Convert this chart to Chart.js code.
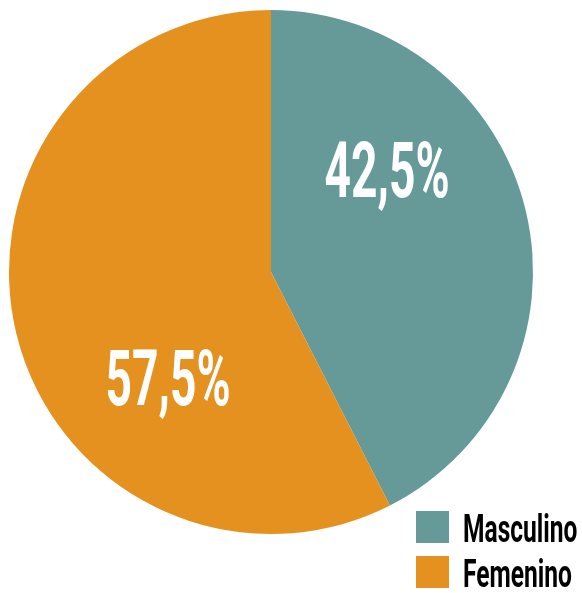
<!DOCTYPE html>
<html lang="es">
<head>
  <meta charset="UTF-8" />
  <title>Masculino / Femenino</title>
  <style>
    html, body { margin: 0; padding: 0; background: #fff; }
    .chart-box { position: relative; width: 582px; height: 593px; }
  </style>
</head>
<body>
  <div class="chart-box">
    <canvas id="genderChart" width="582" height="593"></canvas>
  </div>

  <script src="https://cdn.jsdelivr.net/npm/chart.js"></script>
  <script>
    const categories = ['Masculino', 'Femenino'];
    const shares = [42.5, 57.5];
    const valueLabels = ['42,5%', '57,5%'];
    const sliceColors = ['#659a99', '#e4911f'];

    // label anchors, as fractions of the radius from the pie center
    const labelAnchors = [[0.443, -0.389], [-0.393, 0.405]];

    // condensed bold text: draw squeezed horizontally
    function condensedText(ctx, text, x, y, size, squeeze, align) {
      ctx.save();
      ctx.font = 'bold ' + size + 'px Roboto';
      ctx.textBaseline = 'alphabetic';
      ctx.textAlign = align;
      ctx.translate(x, y);
      ctx.scale(squeeze, 1);
      ctx.fillText(text, 0, 0);
      ctx.restore();
    }

    const pieLabels = {
      id: 'pieLabels',
      afterDatasetsDraw(chart) {
        const ctx = chart.ctx;
        const arcs = chart.getDatasetMeta(0).data;
        arcs.forEach((arc, i) => {
          const r = arc.outerRadius;
          const x = arc.x + labelAnchors[i][0] * r;
          const y = arc.y + labelAnchors[i][1] * r;
          ctx.fillStyle = '#ffffff';
          condensedText(ctx, valueLabels[i], x, y + 27, 77, 0.6, 'center');
        });
      }
    };

    const cornerLegend = {
      id: 'cornerLegend',
      afterDraw(chart) {
        const ctx = chart.ctx;
        categories.forEach((name, i) => {
          const top = 511 + i * 45;
          ctx.fillStyle = sliceColors[i];
          ctx.fillRect(416, top, 33, 32);
          ctx.fillStyle = '#000000';
          condensedText(ctx, name, 463, top + 31, 39, 0.63, 'left');
        });
      }
    };

    new Chart(document.getElementById('genderChart'), {
      type: 'pie',
      data: {
        labels: categories,
        datasets: [{
          data: shares,
          backgroundColor: sliceColors,
          borderWidth: 0
        }]
      },
      options: {
        responsive: false,
        animation: false,
        layout: { padding: { left: 9, top: 10, right: 49, bottom: 59 } },
        plugins: {
          legend: { display: false },
          tooltip: { enabled: false }
        }
      },
      plugins: [pieLabels, cornerLegend]
    });
  </script>
</body>
</html>
